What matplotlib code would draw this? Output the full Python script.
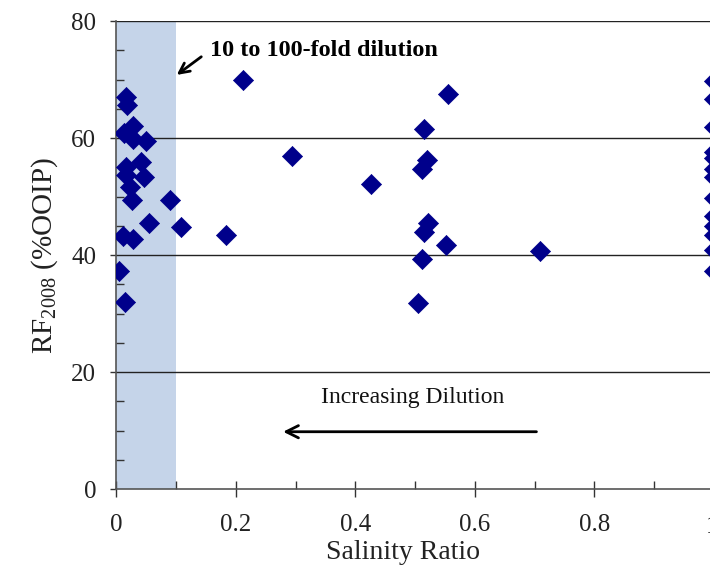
import matplotlib
matplotlib.use("Agg")
import matplotlib.pyplot as plt
from matplotlib.ticker import MultipleLocator

plt.rcParams['font.family'] = ['Liberation Serif', 'DejaVu Serif']
plt.rcParams['mathtext.fontset'] = 'custom'
plt.rcParams['mathtext.rm'] = 'Liberation Serif'

salinity_ratio = [0.211, 0.016, 0.017, 0.027, 0.013, 0.027, 0.050, 0.041, 0.016, 0.016,
                  0.046, 0.022, 0.026, 0.090, 0.055, 0.108, 0.183, 0.011, 0.027, 0.005,
                  0.014, 0.294, 0.426, 0.555, 0.514, 0.519, 0.511, 0.521, 0.514, 0.552,
                  0.511, 0.504, 0.709,
                  1.0, 1.0, 1.0, 1.0, 1.0, 1.0, 1.0, 1.0, 1.0, 1.0, 1.0, 1.0, 1.0]
recovery = [70.0, 67.1, 65.6, 62.0, 60.9, 59.9, 59.5, 55.9, 55.1, 53.7,
            53.3, 51.6, 49.4, 49.5, 45.4, 44.8, 43.5, 43.3, 42.7, 37.3,
            31.9, 56.9, 52.1, 67.5, 61.5, 56.2, 54.8, 45.4, 44.0, 41.7,
            39.4, 31.8, 40.7,
            69.8, 66.7, 61.9, 57.6, 56.6, 54.8, 53.4, 49.8, 46.6, 45.0, 43.4, 40.9, 37.3]

shade_range = (0.0, 0.1)
x_ticks = [0, 0.2, 0.4, 0.6, 0.8]
x_tick_labels = ['0', '0.2', '0.4', '0.6', '0.8']
y_ticks = [0, 20, 40, 60, 80]

fig = plt.figure(figsize=(7.1, 5.7), dpi=100)
ax = fig.add_axes([0.164, 0.142, 0.836, 0.821])

ax.axvspan(shade_range[0], shade_range[1], color='#c5d4e9', zorder=0, lw=0)
for yv in y_ticks[1:]:
    ax.axhline(yv, color='#222222', lw=1.0, zorder=1)

ax.scatter(salinity_ratio, recovery, marker='D', s=105, color='#00008b',
           edgecolors='#00008b', linewidths=0.5, zorder=3, clip_on=True)

ax.set_xlim(0, 0.9935)
ax.set_ylim(0, 80)
ax.set_xticks(x_ticks)
ax.set_xticklabels(x_tick_labels)
ax.set_yticks(y_ticks)
ax.xaxis.set_minor_locator(MultipleLocator(0.1))
ax.yaxis.set_minor_locator(MultipleLocator(5))

for s in ['top', 'right']:
    ax.spines[s].set_visible(False)
for s in ['left', 'bottom']:
    ax.spines[s].set_color('#555555')
    ax.spines[s].set_linewidth(1.2)

ax.tick_params(axis='x', which='major', direction='inout', length=12, width=1,
               color='#333333', labelsize=18, pad=12, labelcolor='#222222')
ax.tick_params(axis='x', which='minor', direction='in', length=5.5, width=1, color='#333333')
ax.tick_params(axis='y', which='major', direction='out', length=4.5, width=1,
               color='#333333', labelsize=18, pad=10, labelcolor='#222222')
ax.tick_params(axis='y', which='minor', direction='in', length=5.5, width=1, color='#333333')

# partially visible "1" label at the right edge
ax.text(0.997, -0.058, '1', transform=ax.get_xaxis_transform(), ha='center', va='top',
        fontsize=18, color='#222222', clip_on=False)

ax.set_xlabel('Salinity Ratio', fontsize=20, labelpad=0, color='#222222')
ax.xaxis.set_label_coords(0.483, -0.108, transform=ax.transAxes)
ax.xaxis.label.set_va('top')
ax.set_ylabel('RF$_{2008}$ (%OOIP)', fontsize=21, labelpad=8, color='#222222')

ax.text(0.157, 75.0, '10 to 100-fold dilution', fontsize=17.5, fontweight='bold',
        ha='left', va='center')
ax.annotate('', xy=(0.101, 70.8), xytext=(0.142, 73.9),
            arrowprops=dict(arrowstyle='->', color='black', lw=2,
                            mutation_scale=18, shrinkA=0, shrinkB=0))

ax.text(0.496, 15.6, 'Increasing Dilution', fontsize=17, ha='center', va='center',
        color='#111111')
ax.annotate('', xy=(0.279, 9.8), xytext=(0.703, 9.8),
            arrowprops=dict(arrowstyle='->', color='black', lw=2,
                            mutation_scale=22, shrinkA=0, shrinkB=0))

fig.savefig('out.png', dpi=100)
